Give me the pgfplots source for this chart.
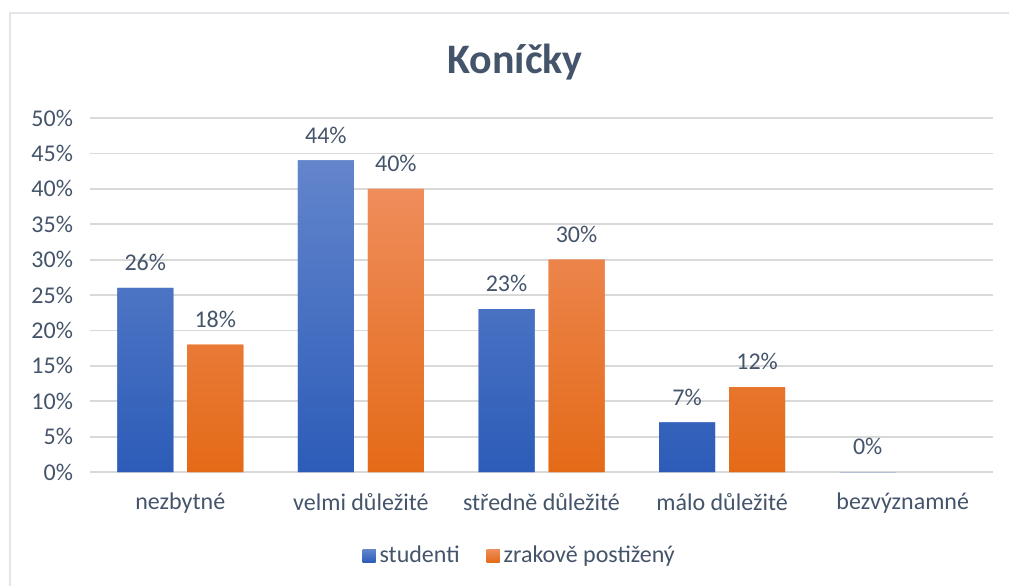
\documentclass[border=0pt]{standalone}
\usepackage{pgfplots}
\pgfplotsset{compat=1.18}
\usepackage{fontspec}
\setmainfont{Carlito}

\definecolor{txt}{HTML}{44546A}
\definecolor{gridc}{HTML}{D9D9D9}
\definecolor{frame}{HTML}{E2E6EA}
\definecolor{bluetop}{HTML}{6385CC}
\definecolor{bluebot}{HTML}{2C5CB8}
\definecolor{bluemid}{HTML}{4472C4}
\definecolor{orgtop}{HTML}{EF8D5C}
\definecolor{orgbot}{HTML}{E46A17}
\definecolor{orgmid}{HTML}{ED7D31}

\begin{document}
\begin{tikzpicture}
\useasboundingbox (0,0) rectangle (504.5pt,293pt);
\draw[frame, line width=0.8pt] (5pt,0) -- (5pt,286.5pt) -- (504.5pt,286.5pt);
\node[txt, font=\fontsize{21}{25}\selectfont\bfseries] at (257.5pt,262pt) {Koníčky};
\begin{axis}[
    at={(45pt,57pt)}, anchor=south west,
    scale only axis, width=451.5pt, height=177pt,
    ybar=7pt, bar width=28pt,
    xmin=-0.5, xmax=4.5, ymin=0, ymax=50,
    xtick={0,...,4},
    xticklabels={nezbytné, velmi důležité, středně důležité, málo důležité, bezvýznamné},
    ytick={0,5,...,50},
    yticklabel={\pgfmathprintnumber{\tick}\%},
    /pgf/number format/assume math mode=true,
    ymajorgrids, grid style={gridc, line width=0.9pt},
    axis line style={draw=none},
    major tick length=0pt,
    tick label style={txt, font=\fontsize{12}{14}\selectfont},
    xticklabel style={yshift=-7pt},
    yticklabel style={xshift=-5pt},
    clip=false,
    legend style={draw=none, fill=none, at={(0.477,-0.237)}, anchor=center,
        font=\fontsize{12}{14}\selectfont, text=txt,
        /tikz/every even column/.append style={column sep=11.5pt}},
    legend columns=2,
    legend image code/.code={\fill[#1] (0pt,-3.25pt) rectangle (6.5pt,3.25pt);},
    nodes near coords={\pgfmathprintnumber{\pgfplotspointmeta}\%},
    every node near coord/.append style={txt, font=\fontsize{12}{14}\selectfont, yshift=5pt},
]
\addplot[draw=none, top color=bluetop, bottom color=bluebot, fill=bluemid]
    coordinates {(0,26) (1,44) (2,23) (3,7) (4,0)};
\addlegendentry{studenti}
\addplot[draw=none, top color=orgtop, bottom color=orgbot, fill=orgmid]
    coordinates {(0,18) (1,40) (2,30) (3,12)};
\addlegendentry{zrakově postižený}
\end{axis}
\end{tikzpicture}
\end{document}
